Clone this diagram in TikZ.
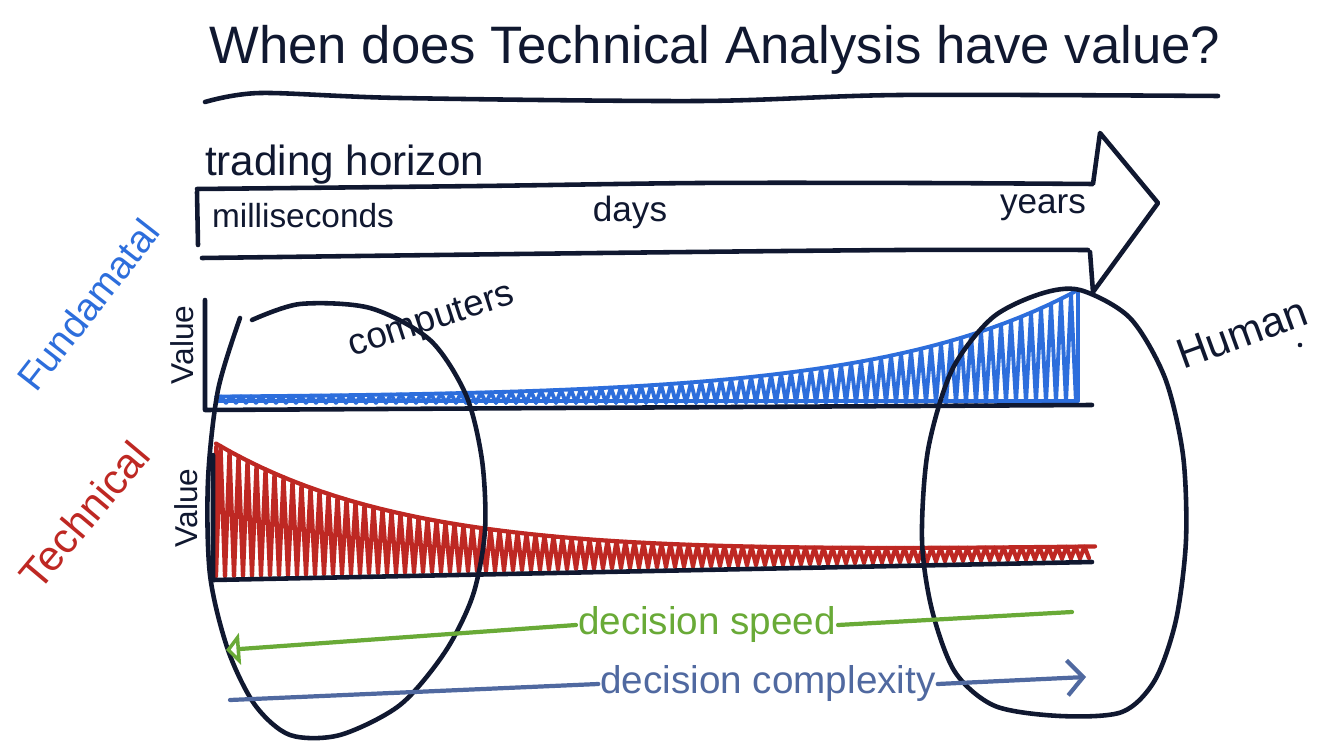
\documentclass[tikz,border=0pt]{standalone}
\usepackage{fontspec}
\setmainfont{Liberation Sans}
\usetikzlibrary{arrows.meta}

\definecolor{inkc}{RGB}{16,24,48}
\definecolor{blueink}{RGB}{45,110,220}
\definecolor{redink}{RGB}{190,40,35}
\definecolor{greenink}{RGB}{105,170,55}
\definecolor{slateink}{RGB}{80,105,160}

\begin{document}
\begin{tikzpicture}[
  x=0.02cm,y=-0.02cm,
  line cap=round,line join=round,
  ink/.style={draw=inkc,line width=2.6pt},
  hand/.style={inner sep=1pt,text=inkc,font=\fontsize{#1}{#1}\selectfont},
  bluestroke/.style={draw=blueink,line width=2.2pt},
  redstroke/.style={draw=redink,line width=2.4pt},
  scale line/.style={line width=2.4pt}
]
  \useasboundingbox[fill=white] (0,0) rectangle (1322,746);

  % title
  \node[hand=30] (title) at (715,50) {When does Technical Analysis have value?};
  \draw[ink] plot[smooth] coordinates {(205,102) (260,93) (400,98) (700,101) (900,95) (1218,96)};

  % trading horizon arrow
  \node[hand=24,anchor=base west] (horizon) at (203,176) {trading horizon};
  \draw[ink] (198,245) -- (197,192);
  \draw[ink] plot[smooth] coordinates {(197,189) (480,186) (700,183) (920,183) (1093,184)}
    -- (1100,133) -- (1158,203) -- (1093,292) -- (1090,252);
  \draw[ink] plot[smooth] coordinates {(1088,250) (900,250) (600,253) (202,258)};
  \node[hand=19] (ms) at (303,216) {milliseconds};
  \node[hand=20] (days) at (630,212) {days};
  \node[hand=20] (years) at (1043,208) {years};

  % side labels
  \node[hand=22,text=blueink,rotate=52] (fund) at (88,305) {Fundamatal};
  \node[hand=24,text=redink,rotate=50] (tech) at (84,515) {Technical};
  \node[hand=18,rotate=90] (fval) at (182,345) {Value};
  \node[hand=18,rotate=90] (tval) at (186,508) {Value};

  % fundamental value
  \foreach \x in {216,226,...,1070}{
    \pgfmathsetmacro\yt{398-108*exp((\x+5-1078)/200)}
    \draw[bluestroke] (\x,403) -- (\x+5,\yt) -- (\x+10,403);
  }
  \draw[bluestroke] plot[domain=216:1078,samples=60] (\x,{398-108*exp((\x-1078)/200)});
  \draw[bluestroke] (216,401) -- (1078,401) -- (1078,290);
  \draw[ink] (205,300) -- (205,410) -- (1092,405);

  % technical value
  \foreach \x in {216,225,...,1086}{
    \pgfmathsetmacro\yb{576-18*(\x-215)/875}
    \pgfmathsetmacro\yt{\yb-10-123*exp(-(\x+4.5-215)/200)}
    \draw[redstroke] (\x,\yb) -- (\x+4.5,\yt) -- (\x+9,\yb);
  }
  \draw[redstroke] plot[domain=216:1095,samples=60] (\x,{576-18*(\x-215)/875-10-123*exp(-(\x-215)/200)});
  \draw[redstroke] (216,447) -- (216,576);
  \draw[ink] (213,455) -- (213,580) -- (1092,562);

  % computers and human
  \draw[ink] plot[smooth] coordinates {(252,320) (300,304) (370,308) (430,340) (466,395)
    (482,460) (485,530) (473,595) (445,652) (400,705) (340,735) (290,735) (255,705)
    (228,650) (210,575) (208,480) (218,390) (240,318)};
  \draw[ink] plot[smooth cycle] coordinates {(1040,294) (1080,290) (1130,318) (1165,378)
    (1183,455) (1186,540) (1176,620) (1155,680) (1122,712) (1060,716) (995,706)
    (955,672) (932,610) (922,540) (928,450) (952,370) (992,318)};
  \node[hand=21,rotate=18] (comp) at (432,322) {computers};
  \node[hand=24,rotate=20] (human) at (1242,333) {Human};
  \fill[inkc] (1300,345) circle (1.3pt);

  % decision speed / complexity
  \node[hand=22,text=greenink] (speed) at (707,625) {decision speed};
  \coordinate (speedL) at (226,650);
  \coordinate (speedR) at (1072,612);
  \draw[scale line,greenink,-{Triangle[open,length=8pt,width=18pt]}] (speed.west) -- (speedL);
  \draw[scale line,greenink] (speed.east) -- (speedR);

  \node[hand=22,text=slateink] (cplx) at (768,684) {decision complexity};
  \coordinate (cplxL) at (230,700);
  \coordinate (cplxR) at (1086,677);
  \draw[scale line,slateink] (cplx.west) -- (cplxL);
  \draw[scale line,slateink,-{Straight Barb[length=9pt,width=20pt]}] (cplx.east) -- (cplxR);
\end{tikzpicture}
\end{document}
